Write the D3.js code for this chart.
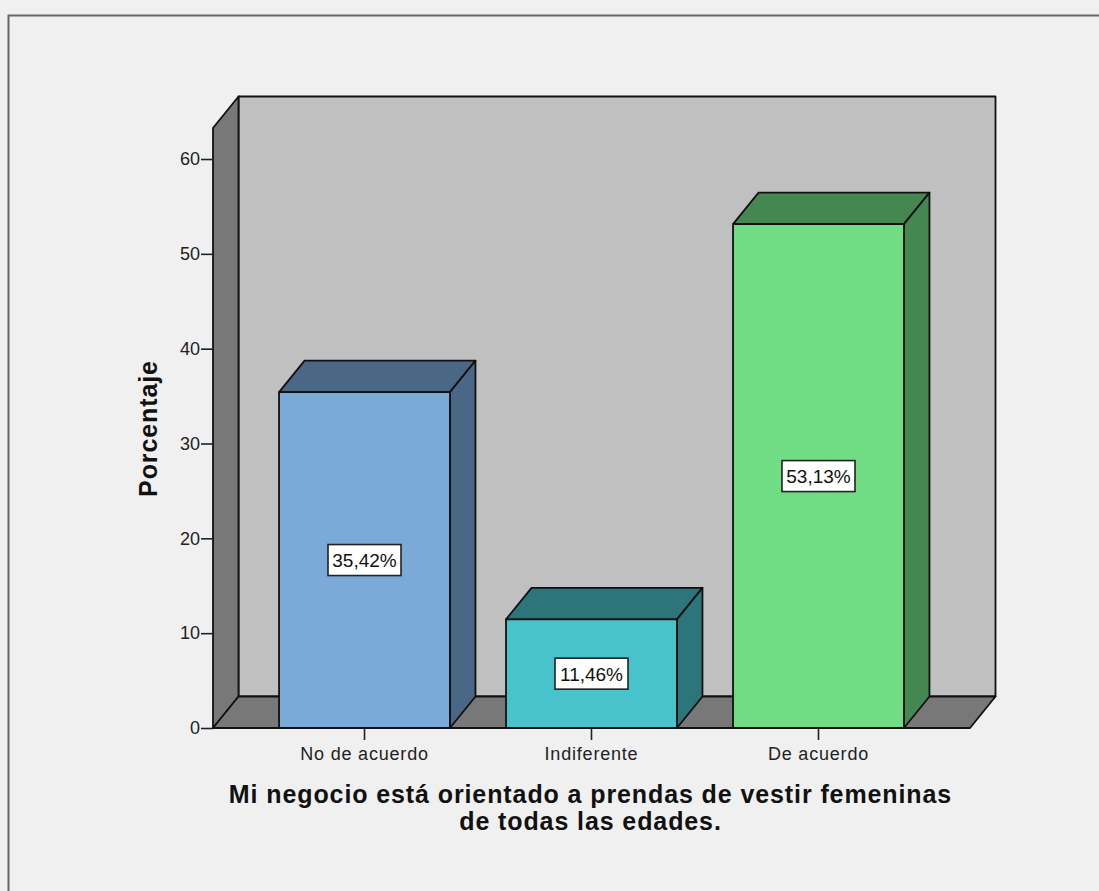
<!DOCTYPE html>
<html>
<head>
<meta charset="utf-8">
<script src="https://cdn.jsdelivr.net/npm/d3@7/dist/d3.min.js"></script>
<style>
  html, body { margin: 0; padding: 0; background: #f0f0f0; }
  svg { display: block; }
  text { font-family: "Liberation Sans", Arial, sans-serif; }
</style>
</head>
<body>
<svg id="chart" width="1099" height="891"></svg>
<script>
// Survey responses, percentage of respondents
const categories = ["No de acuerdo", "Indiferente", "De acuerdo"];
const percentages = [35.42, 11.46, 53.13];
const valueLabels = ["35,42%", "11,46%", "53,13%"];
const frontColors = ["#7ba9d8", "#49c3cb", "#70dd84"];
const sideColors = ["#4a6885", "#2c767b", "#448751"];
const yTicks = [0, 10, 20, 30, 40, 50, 60];
const yTitle = "Porcentaje";
const xTitleLines = ["Mi negocio está orientado a prendas de vestir femeninas", "de todas las edades."];

const width = 1099, height = 891;
const stroke = "#111";
const wallGray = "#c0c0c0", panelGray = "#787878";
const fontStack = '"Liberation Sans", Arial, sans-serif';

// Oblique offset of the rear plane relative to the front plane
const depthX = 25.5, depthY = -31.5;

const y = d3.scaleLinear().domain([0, 63.27]).range([728, 128]);
const x = d3.scaleBand().domain(categories).range([213, 970])
  .paddingInner(0.247).paddingOuter(0.291);

const svg = d3.select("#chart");
const poly = pts => pts.map(p => p.join(",")).join(" ");

// Outer frame: open on the right and bottom edges
svg.append("path")
  .attr("d", `M${8.5},${height} V${15.5} H${width}`)
  .attr("fill", "none").attr("stroke", "#666").attr("stroke-width", 2);

const [x0, x1] = x.range();
const [yBase, yTop] = y.range();

// Back wall, left wall and floor of the 3D box
function face(points, fill) {
  svg.append("polygon").attr("points", poly(points))
    .attr("fill", fill).attr("stroke", stroke).attr("stroke-width", 1.8)
    .attr("stroke-linejoin", "round");
}
face([[x0 + depthX, yTop + depthY], [x1 + depthX, yTop + depthY], [x1 + depthX, yBase + depthY], [x0 + depthX, yBase + depthY]], wallGray);
face([[x0, yTop], [x0 + depthX, yTop + depthY], [x0 + depthX, yBase + depthY], [x0, yBase]], panelGray);
face([[x0, yBase], [x0 + depthX, yBase + depthY], [x1 + depthX, yBase + depthY], [x1, yBase]], panelGray);

// Value axis
const yAxis = d3.axisLeft(y).tickValues(yTicks).tickSize(12).tickPadding(1);
const yG = svg.append("g").attr("transform", `translate(${x0},0)`).call(yAxis);
yG.select(".domain").remove();
yG.selectAll("line").attr("stroke", "#222").attr("stroke-width", 1.6);
yG.selectAll("text").attr("font-size", 18).attr("fill", "#222")
  .style("font-family", fontStack);

// Category axis
const xAxis = d3.axisBottom(x).tickSize(12).tickPadding(7);
const xG = svg.append("g").attr("transform", `translate(0,${yBase})`).call(xAxis);
xG.select(".domain").remove();
xG.selectAll("line").attr("stroke", "#222").attr("stroke-width", 1.6);
xG.selectAll("text").attr("font-size", 18).attr("fill", "#222")
  .style("letter-spacing", "0.8px")
  .style("font-family", fontStack);

// Bars: top and side faces in the darker shade, then the front face
categories.forEach((c, i) => {
  const l = x(c), r = l + x.bandwidth(), t = y(percentages[i]);
  face([[l, t], [l + depthX, t + depthY], [r + depthX, t + depthY], [r, t]], sideColors[i]);
  face([[r, t], [r + depthX, t + depthY], [r + depthX, yBase + depthY], [r, yBase]], sideColors[i]);
  face([[l, t], [r, t], [r, yBase], [l, yBase]], frontColors[i]);
});

// Front baseline over the floor edge
svg.append("line").attr("x1", x0).attr("x2", x1).attr("y1", yBase).attr("y2", yBase)
  .attr("stroke", stroke).attr("stroke-width", 2);

// Value labels centred on each bar's front face
categories.forEach((c, i) => {
  const cx = x(c) + x.bandwidth() / 2, cy = y(percentages[i] / 2);
  svg.append("rect").attr("x", cx - 36.5).attr("y", cy - 15.5).attr("width", 73).attr("height", 31)
    .attr("fill", "#fff").attr("stroke", "#222").attr("stroke-width", 1.6);
  svg.append("text").attr("x", cx).attr("y", cy + 7).attr("text-anchor", "middle")
    .attr("font-size", 19).attr("fill", "#111").text(valueLabels[i]);
});

// Axis titles
svg.append("text")
  .attr("transform", "translate(157,428.5) rotate(-90)")
  .attr("text-anchor", "middle").attr("font-size", 25).attr("font-weight", "bold")
  .style("letter-spacing", "0.9px")
  .attr("fill", "#111").text(yTitle);

xTitleLines.forEach((line, i) => {
  svg.append("text").attr("x", 590.5).attr("y", 803 + i * 27)
    .attr("text-anchor", "middle").attr("font-size", 25).attr("font-weight", "bold")
    .style("letter-spacing", "0.9px")
    .attr("fill", "#111").text(line);
});
</script>
</body>
</html>
